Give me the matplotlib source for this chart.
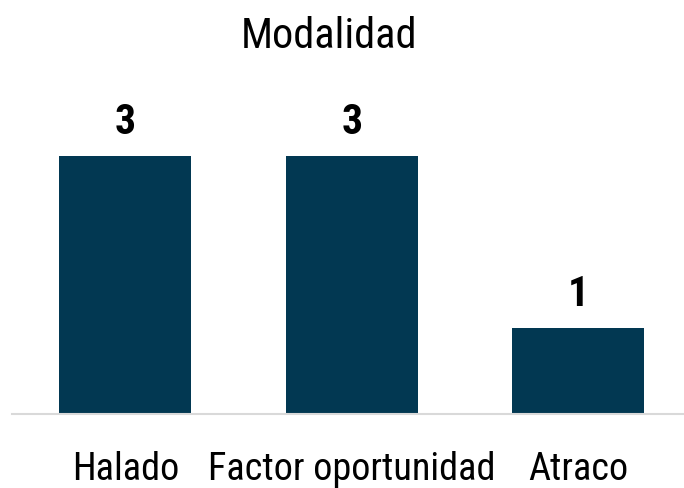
import matplotlib
matplotlib.use("Agg")
import matplotlib.pyplot as plt

categories = ["Halado", "Factor oportunidad", "Atraco"]
values = [3, 3, 1]
title = "Modalidad"

FONT = ['Roboto Condensed', 'Archivo Narrow', 'PT Sans Narrow', 'DejaVu Sans']
plt.rcParams['font.family'] = FONT

W, H = 684, 488
fig = plt.figure(figsize=(W / 100, H / 100), dpi=100)
ppu_x = 226.5
left = 12
ax_w = 3 * ppu_x
y0 = 414
ppu_y = 86
ytop = 3.6
ax = fig.add_axes([left / W, (H - y0) / H, ax_w / W, ytop * ppu_y / H])
ax.set_xlim(-0.5, 2.5)
ax.set_ylim(0, ytop)

x = list(range(len(categories)))
bars = ax.bar(x, values, width=132 / ppu_x, color="#023852", edgecolor="none")
ax.bar_label(bars, labels=[str(v) for v in values], padding=9.5,
             fontsize=30, fontweight="bold", color="#000000")

ax.set_xticks(x)
ax.set_xticklabels(categories, fontsize=27.5, color="#000000")
ax.tick_params(axis="x", length=0, pad=27)
ax.set_yticks([])
for s in ["top", "right", "left"]:
    ax.spines[s].set_visible(False)
ax.spines["bottom"].set_color("#d9d9d9")
ax.spines["bottom"].set_linewidth(1.5)

fig.text(329 / W, 1 - 48 / H, title, ha="center", va="baseline",
         fontsize=30.5, color="#000000")

fig.savefig("out.png", dpi=100, facecolor="white")
